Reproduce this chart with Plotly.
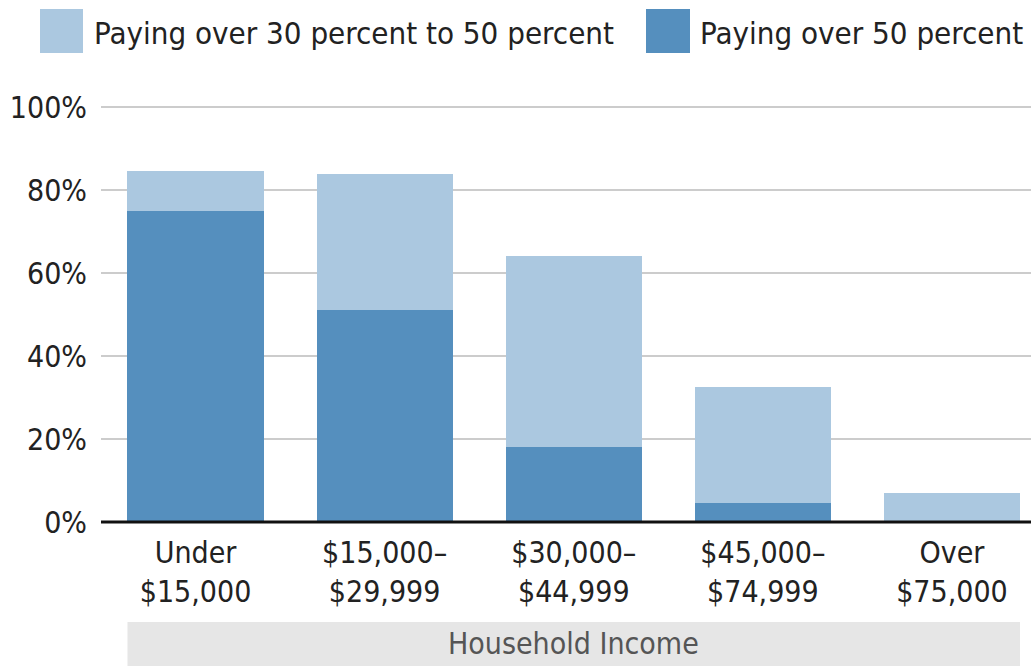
import plotly.graph_objects as go

categories = ["Under<br>$15,000", "$15,000–<br>$29,999", "$30,000–<br>$44,999", "$45,000–<br>$74,999", "Over<br>$75,000"]
over50 = [75, 51, 18, 4.5, 0]
over30to50 = [9.6, 32.8, 46.2, 28, 7.1]
series_names = ["Paying over 30 percent to 50 percent", "Paying over 50 percent"]
y_ticks = [0, 20, 40, 60, 80, 100]
y_tick_labels = ["0%", "20%", "40%", "60%", "80%", "100%"]
axis_title = "Household Income"

LIGHT = "#abc8e0"
DARK = "#558fbe"
FONT = "DejaVu Sans Condensed, Liberation Sans Narrow, Arial Narrow, sans-serif"

W, H = 1031, 666
L, R, T, B = 101, 1031, 105, 522  # plot area in px
PPU = (522 - 107) / 100.0  # pixels per percent
Y_TOP = (B - T) / PPU


def px(x):
    return (x - L) / (R - L)


def py(y):
    return (B - y) / (B - T)


xs = list(range(len(categories)))

fig = go.Figure()
fig.add_trace(go.Bar(x=xs, y=over50, name=series_names[1], marker=dict(color=DARK, line=dict(width=0))))
fig.add_trace(go.Bar(x=xs, y=over30to50, name=series_names[0], marker=dict(color=LIGHT, line=dict(width=0))))

shapes = [
    # baseline
    dict(type="line", xref="paper", yref="paper", x0=0, x1=1, y0=0, y1=0,
         line=dict(color="#111111", width=3), layer="above"),
    # household income band
    dict(type="rect", xref="x", yref="paper", x0=-0.36, x1=4.36, y0=py(667), y1=py(622),
         fillcolor="#e6e6e6", line=dict(width=0), layer="below"),
    # legend swatches
    dict(type="rect", xref="paper", yref="paper", x0=px(40), x1=px(83), y0=py(53), y1=py(9),
         fillcolor=LIGHT, line=dict(width=0)),
    dict(type="rect", xref="paper", yref="paper", x0=px(646), x1=px(690), y0=py(53), y1=py(9),
         fillcolor=DARK, line=dict(width=0)),
]

annotations = [
    dict(text=series_names[0], xref="paper", yref="paper", x=px(92), y=py(33),
         xanchor="left", yanchor="middle", showarrow=False,
         font=dict(family=FONT, size=31, color="#222222")),
    dict(text=series_names[1], xref="paper", yref="paper", x=px(698), y=py(33),
         xanchor="left", yanchor="middle", showarrow=False,
         font=dict(family=FONT, size=31, color="#222222")),
    dict(text=axis_title, xref="x", yref="paper", x=2, y=py(643),
         xanchor="center", yanchor="middle", showarrow=False,
         font=dict(family=FONT, size=30, color="#555555")),
]

fig.update_layout(
    width=W, height=H,
    margin=dict(l=L, r=W - R, t=T, b=H - B, pad=0),
    barmode="stack",
    bargap=0.28,
    showlegend=False,
    plot_bgcolor="white",
    paper_bgcolor="white",
    font=dict(family=FONT, size=30, color="#222222"),
    shapes=shapes,
    annotations=annotations,
)
fig.update_xaxes(
    tickmode="array", tickvals=xs, ticktext=categories,
    range=[-0.5, (R - 196) / 189], showgrid=False, zeroline=False,
    showline=False, ticks="", ticklabelstandoff=10,
    tickfont=dict(family=FONT, size=30, color="#222222"),
)
fig.update_yaxes(
    range=[0, Y_TOP], tickmode="array", tickvals=y_ticks, ticktext=y_tick_labels,
    showgrid=True, gridcolor="#cccccc", gridwidth=2, zeroline=False,
    showline=False, ticks="", ticklabelstandoff=13,
    tickfont=dict(family=FONT, size=30, color="#222222"),
)

fig.write_html("out.html", config={"displayModeBar": False},
               post_script="document.body.style.margin='0';document.body.style.overflow='hidden';")
